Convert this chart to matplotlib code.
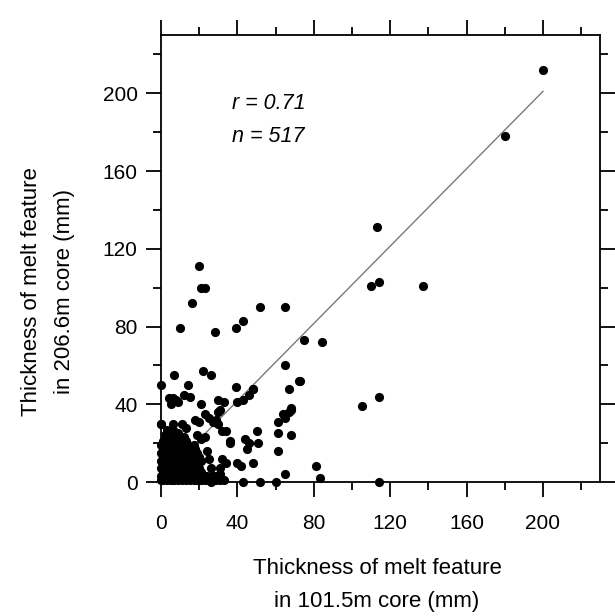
import matplotlib
matplotlib.use("Agg")
import matplotlib.pyplot as plt
import numpy as np

plt.rcParams['font.family'] = ['Liberation Sans', 'DejaVu Sans']

# scattered points (101.5m core, 206.6m core)
outlier_x = [200, 180, 113, 110, 114, 137, 75, 84, 73, 114, 105, 68,
             20, 21, 23, 16, 10, 28, 39, 43, 52, 65, 65, 72, 7, 22, 26,
             0, 14, 39, 48, 67, 12, 15, 4, 6, 8, 5, 9, 21, 30, 33, 40,
             43, 46, 48, 0, 18, 20, 23, 25, 27, 29, 30, 30, 31, 32, 34,
             44, 46, 45, 50, 51, 48, 40, 42, 32, 34, 31, 25, 26, 24, 36,
             61, 65, 68, 61, 68, 61, 65, 81, 83, 60, 43, 52, 114, 29, 31,
             26, 36, 19, 21, 23, 64, 67]
outlier_y = [212, 178, 131, 101, 103, 101, 73, 72, 52, 44, 39, 38,
             111, 100, 100, 92, 79, 77, 79, 83, 90, 90, 60, 52, 55, 57, 55,
             50, 50, 49, 48, 48, 45, 44, 43, 43, 42, 40, 41, 40, 42, 41, 41,
             42, 45, 48, 30, 32, 31, 35, 33, 31, 32, 30, 36, 37, 26, 26,
             22, 20, 17, 26, 20, 10, 10, 8, 12, 10, 7, 12, 7, 16, 21,
             31, 33, 37, 25, 24, 16, 4, 8, 2, 0, 0, 0, 0, 3, 4,
             0, 20, 24, 22, 23, 35, 36]

# dense cluster near the origin
cluster_x = [0, 1, 3, 5, 7, 9, 11, 13, 15, 17, 19, 21, 23, 25, 27, 29, 31, 33,
             0, 2, 4, 6, 8, 10, 12, 14, 16, 18, 20, 22, 24, 27, 30,
             1, 3, 5, 7, 9, 11, 13, 15, 17, 19, 21,
             0, 2, 4, 6, 8, 10, 12, 14, 16, 18, 20,
             1, 3, 5, 7, 9, 11, 13, 15, 17, 19,
             0, 2, 4, 6, 8, 10, 12, 14, 16, 18, 21,
             1, 3, 5, 7, 9, 11, 13, 15, 17, 20,
             0, 2, 4, 6, 8, 10, 12, 14, 16, 19,
             1, 3, 5, 7, 9, 11, 13, 15, 18,
             0, 2, 4, 6, 8, 10, 12, 14, 17,
             1, 3, 5, 7, 10, 13,
             2, 5, 9, 12, 3, 6, 13, 0, 6, 11, 7, 12, 9]
cluster_y = [1, 1, 1, 1, 1, 1, 1, 1, 1, 1, 1, 1, 1, 1, 1, 1, 1, 1,
             3, 3, 3, 3, 3, 3, 3, 3, 3, 3, 3, 3, 3, 3, 3,
             5, 5, 5, 5, 5, 5, 5, 5, 5, 5, 5,
             7, 7, 7, 7, 7, 7, 7, 7, 7, 7, 7,
             9, 9, 9, 9, 9, 9, 9, 9, 9, 9,
             11, 11, 11, 11, 11, 11, 11, 11, 11, 11, 11,
             13, 13, 13, 13, 13, 13, 13, 13, 13, 13,
             15, 15, 15, 15, 15, 15, 15, 15, 15, 15,
             17, 17, 17, 17, 17, 17, 17, 17, 17,
             19, 19, 19, 19, 19, 19, 19, 19, 19,
             21, 21, 21, 21, 21, 21,
             24, 25, 25, 23, 27, 27, 28, 30, 30, 30, 23, 22, 20]

# regression line end points
fit_x = [0, 200]
fit_y = [2, 201]

ticks = [0, 40, 80, 120, 160, 200]
minor_ticks = [20, 60, 100, 140, 180, 220]


def main():
    fig = plt.figure(figsize=(6.15, 6.16), dpi=100)
    ax = fig.add_axes([0.262, 0.2175, 0.714, 0.7257])

    ax.plot(fit_x, fit_y, color="#7a7a7a", lw=1.0, zorder=1)
    ax.plot(cluster_x + outlier_x, cluster_y + outlier_y, "o", color="black",
            ms=6.6, mew=0, clip_on=False, zorder=3)

    ax.set_xlim(0, 230)
    ax.set_ylim(0, 230)
    ax.set_xticks(ticks)
    ax.set_yticks(ticks)
    ax.set_xticks(minor_ticks, minor=True)
    ax.set_yticks(minor_ticks, minor=True)
    ax.tick_params(which="both", direction="out", top=True, right=True,
                   width=1.3, labelsize=15)
    ax.tick_params(which="major", length=11)
    ax.tick_params(which="minor", length=5.5)
    ax.tick_params(axis="x", pad=12)
    ax.tick_params(axis="y", pad=6)
    for sp in ax.spines.values():
        sp.set_linewidth(1.3)

    ax.text(37, 195, "r = 0.71", fontsize=15.5, style="italic", va="center")
    ax.text(37, 178, "n = 517", fontsize=15.5, style="italic", va="center")

    fig.text(377 / 615, 1 - 585 / 616,
             "Thickness of melt feature\nin 101.5m core (mm)",
             ha="center", va="center", fontsize=16, linespacing=1.75)
    fig.text(48 / 615, 1 - 292 / 616,
             "Thickness of melt feature\nin 206.6m core (mm)",
             ha="center", va="center", fontsize=16, linespacing=1.75,
             rotation=90)

    fig.savefig("out.png", dpi=100)


if __name__ == "__main__":
    main()
